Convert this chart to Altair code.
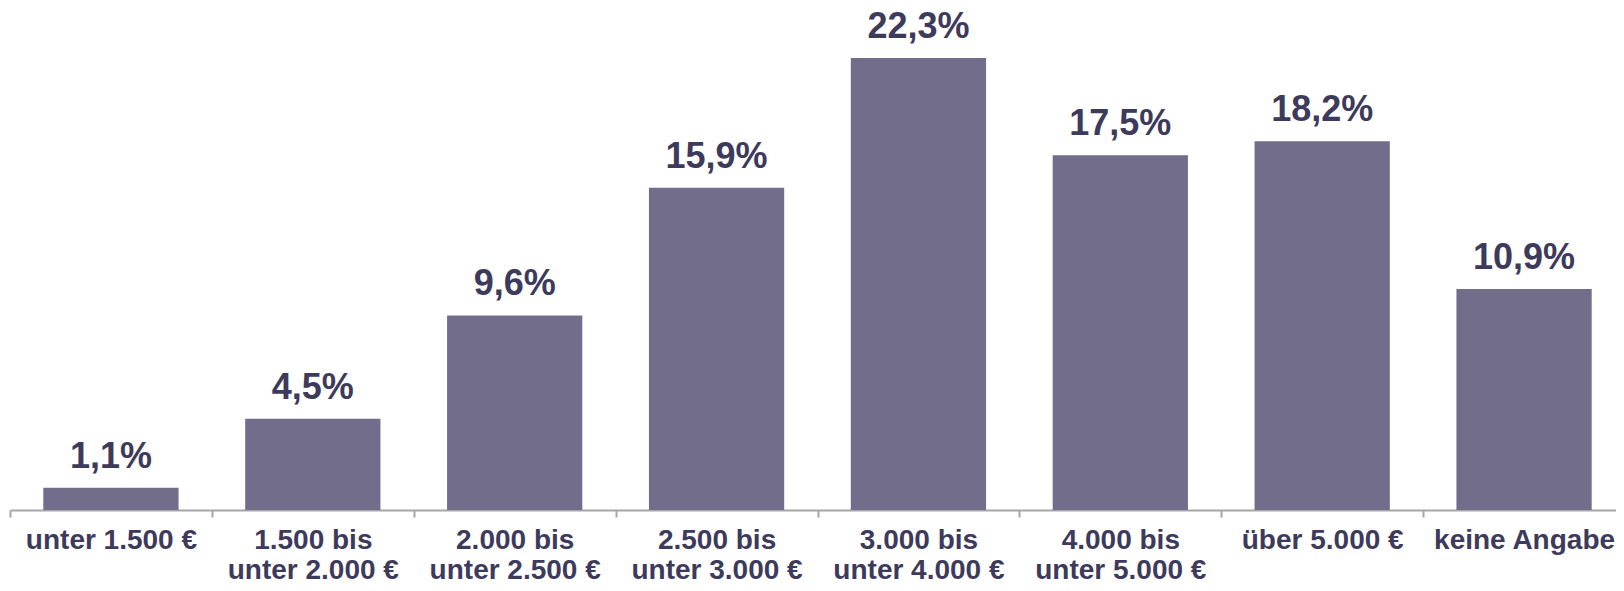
import altair as alt
import pandas as pd

categories = [
    "unter 1.500 €",
    "1.500 bis\nunter 2.000 €",
    "2.000 bis\nunter 2.500 €",
    "2.500 bis\nunter 3.000 €",
    "3.000 bis\nunter 4.000 €",
    "4.000 bis\nunter 5.000 €",
    "über 5.000 €",
    "keine Angabe",
]
values = [1.1, 4.5, 9.6, 15.9, 22.3, 17.5, 18.2, 10.9]
labels = [f"{v:.1f}".replace(".", ",") + "%" for v in values]

df = pd.DataFrame({"cat": categories, "val": values, "lab": labels})

BAR = "#736d8c"
TEXT = "#3d3a5c"
FONT = "Liberation Sans"

x = alt.X(
    "cat:N",
    sort=categories,
    scale=alt.Scale(paddingInner=0, paddingOuter=0),
    axis=alt.Axis(
        title=None,
        labelAngle=0,
        labelExpr="datum.value ? split(datum.value, '\\n') : ''",
        labelFont=FONT,
        labelFontSize=28,
        labelFontWeight="bold",
        labelColor=TEXT,
        labelLineHeight=30,
        labelPadding=9,
        labelBaseline="top",
        labelLimit=0,
        tickBand="extent",
        tickSize=7,
        tickColor="#a6a6a6",
        domainColor="#a6a6a6",
        domainWidth=2,
        tickWidth=2,
    ),
)
y = alt.Y(
    "val:Q",
    scale=alt.Scale(domain=[0, 24.77], nice=False),
    axis=None,
)

bars = alt.Chart(df).mark_bar(color=BAR, width=alt.RelativeBandSize(0.67)).encode(x=x, y=y)
text = alt.Chart(df).mark_text(
    font=FONT, fontSize=36, fontWeight="bold", color=TEXT, baseline="alphabetic", dy=-20
).encode(x=x, y=y, text="lab:N")

chart = (
    alt.layer(bars, text)
    .properties(
        width=1615,
        height=502,
        padding={"left": 2, "top": 0, "right": -9, "bottom": 73},
        autosize=alt.AutoSizeParams(type="none"),
        view=alt.ViewBackground(stroke="transparent", fill="white"),
    )
    .configure_view(stroke="transparent")
    .configure(background="white")
)

chart.save("out.html", embed_options={"renderer": "svg", "actions": False})
